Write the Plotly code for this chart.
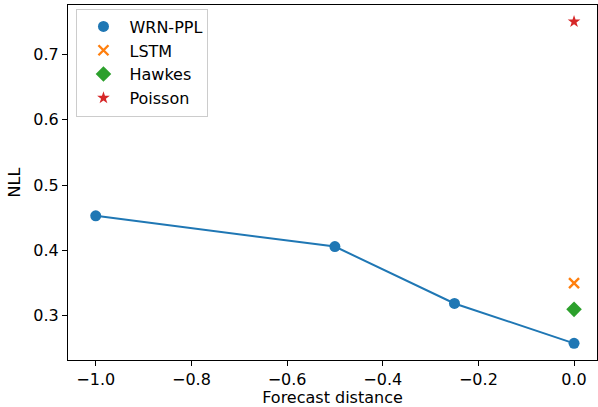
import plotly.graph_objects as go

wrn_x = [-1.0, -0.5, -0.25, 0.0]
wrn_y = [0.453, 0.406, 0.319, 0.258]
lstm_x = [0.0]
lstm_y = [0.350]
hawkes_x = [0.0]
hawkes_y = [0.310]
poisson_x = [0.0]
poisson_y = [0.750]

x_ticks = [-1.0, -0.8, -0.6, -0.4, -0.2, 0.0]
x_labels = ["\u22121.0", "\u22120.8", "\u22120.6", "\u22120.4", "\u22120.2", "0.0"]
y_ticks = [0.3, 0.4, 0.5, 0.6, 0.7]
y_labels = ["0.3", "0.4", "0.5", "0.6", "0.7"]

C0, C1, C2, C3 = "#1f77b4", "#ff7f0e", "#2ca02c", "#d62728"
font = "DejaVu Sans"
fs = 16

fig = go.Figure()
fig.add_trace(go.Scatter(x=wrn_x, y=wrn_y, mode="lines", line=dict(color=C0, width=2),
                         showlegend=False, hoverinfo="skip"))
fig.add_trace(go.Scatter(x=wrn_x, y=wrn_y, mode="markers", name="WRN-PPL", legendgroup="a",
                         marker=dict(symbol="circle", size=11, color=C0)))
fig.add_trace(go.Scatter(x=lstm_x, y=lstm_y, mode="markers", name="LSTM", legendgroup="b",
                         marker=dict(symbol="x-thin", size=10, color=C1,
                                     line=dict(color=C1, width=2.4))))
fig.add_trace(go.Scatter(x=hawkes_x, y=hawkes_y, mode="markers", name="Hawkes", legendgroup="c",
                         marker=dict(symbol="diamond", size=12, color=C2)))
fig.add_trace(go.Scatter(x=poisson_x, y=poisson_y, mode="markers", name="Poisson", legendgroup="d",
                         marker=dict(symbol="star", size=9.5, color=C3)))

axis_common = dict(showgrid=False, zeroline=False, showline=True, mirror=True,
                   linecolor="black", linewidth=1, ticks="outside", ticklen=5,
                   tickcolor="black", tickwidth=1,
                   tickfont=dict(family=font, size=fs, color="black"))

fig.update_layout(
    width=598, height=407,
    margin=dict(l=68, r=1, t=5, b=47),
    paper_bgcolor="white", plot_bgcolor="white",
    font=dict(family=font, size=fs, color="black"),
    xaxis=dict(range=[-1.058, 0.048], tickvals=x_ticks, ticktext=x_labels,
               title=dict(text="Forecast distance", font=dict(family=font, size=fs), standoff=4),
               **axis_common),
    yaxis=dict(range=[0.2325, 0.7755], tickvals=y_ticks, ticktext=y_labels,
               title=dict(text="NLL", font=dict(family=font, size=fs), standoff=8),
               **axis_common),
    legend=dict(x=0.016, y=0.99, xanchor="left", yanchor="top",
                bgcolor="rgba(255,255,255,0.8)", bordercolor="#cccccc", borderwidth=1,
                font=dict(family=font, size=fs, color="black"),
                tracegroupgap=0, itemwidth=42),
)

fig.write_html("out.html", config={"displayModeBar": False},
               post_script="document.body.style.margin='0';")
